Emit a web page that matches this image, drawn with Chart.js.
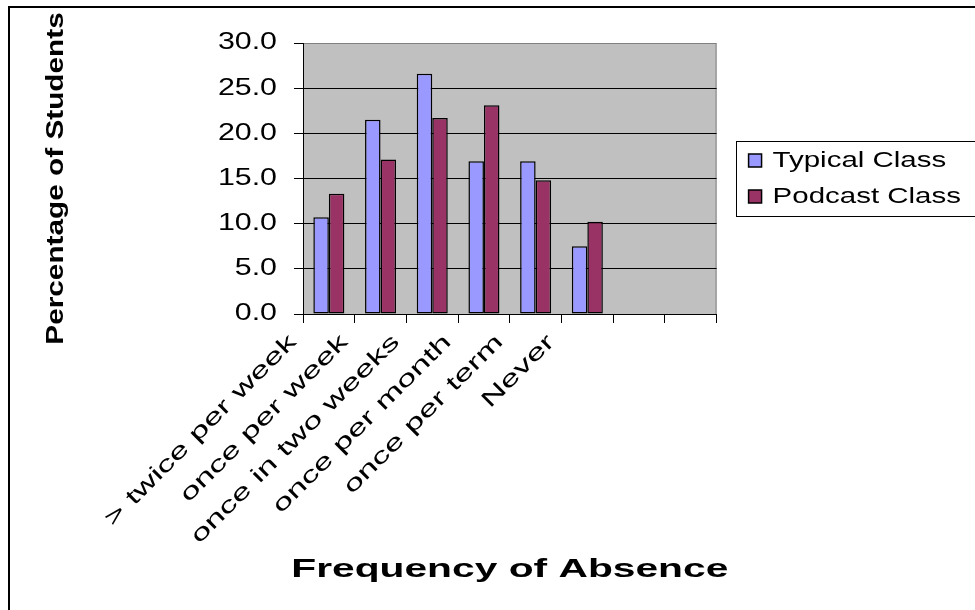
<!DOCTYPE html>
<html>
<head>
<meta charset="utf-8">
<title>Frequency of Absence</title>
<script src="https://cdn.jsdelivr.net/npm/chart.js@4/dist/chart.umd.min.js"></script>
<style>
  html, body { margin: 0; padding: 0; background: #fff; }
  canvas { display: block; }
</style>
</head>
<body>
<canvas id="chart" width="975" height="610"></canvas>
<script>
// Absence categories (the last two slots are left empty on the axis)
const categories = ['> twice per week', 'once per week', 'once in two weeks', 'once per month', 'once per term', 'Never', '', ''];

// Percentage of students in each category
const typicalClass = [10.7, 21.5, 26.6, 16.9, 16.9, 7.5, null, null];
const podcastClass = [13.3, 17.1, 21.7, 23.1, 14.8, 10.2, null, null];

// Value axis ticks
const yTicks = [0, 5, 10, 15, 20, 25, 30];

// Lettering in this chart is set wide: horizontal widening per font size (px)
const TEXT_WIDEN = { '22': 1.34, '22.5': 1.55, '23': 1.32, '24': 1.24, '25': 1.63 };

function widenText(ctx) {
  const fill = ctx.fillText.bind(ctx);
  const measure = ctx.measureText.bind(ctx);
  const factor = () => {
    const m = /(\d+(?:\.\d+)?)px/.exec(ctx.font);
    return (m && TEXT_WIDEN[String(parseFloat(m[1]))]) || 1;
  };
  ctx.fillText = function (text, x, y, maxWidth) {
    const k = factor();
    if (k === 1) {
      return maxWidth === undefined ? fill(text, x, y) : fill(text, x, y, maxWidth);
    }
    ctx.save();
    ctx.translate(x, y);
    ctx.scale(k, 1);
    fill(text, 0, 0);
    ctx.restore();
  };
  ctx.measureText = function (text) {
    const m = measure(text);
    const k = factor();
    if (k === 1) return m;
    return {
      width: m.width * k,
      actualBoundingBoxLeft: m.actualBoundingBoxLeft * k,
      actualBoundingBoxRight: m.actualBoundingBoxRight * k,
      actualBoundingBoxAscent: m.actualBoundingBoxAscent,
      actualBoundingBoxDescent: m.actualBoundingBoxDescent,
      fontBoundingBoxAscent: m.fontBoundingBoxAscent,
      fontBoundingBoxDescent: m.fontBoundingBoxDescent
    };
  };
}

// Page frame, grey plot area and the box around the legend
const framePlugin = {
  id: 'frame',
  beforeDraw(chart) {
    const { ctx, chartArea: a } = chart;
    ctx.save();
    ctx.fillStyle = '#ffffff';
    ctx.fillRect(0, 0, chart.width, chart.height);
    ctx.strokeStyle = '#000000';
    ctx.lineWidth = 2;
    ctx.beginPath();
    ctx.moveTo(9, chart.height + 5);
    ctx.lineTo(9, 7);
    ctx.lineTo(chart.width + 5, 7);
    ctx.stroke();
    ctx.fillStyle = '#C0C0C0';
    ctx.fillRect(a.left, a.top, a.right - a.left, a.bottom - a.top);
    ctx.strokeStyle = '#808080';
    ctx.lineWidth = 1;
    ctx.beginPath();
    ctx.moveTo(a.left, a.top + 0.5);
    ctx.lineTo(a.right - 0.5, a.top + 0.5);
    ctx.lineTo(a.right - 0.5, a.bottom);
    ctx.stroke();
    ctx.restore();
  },
  afterDraw(chart) {
    const { ctx, legend } = chart;
    const mid = (legend.top + legend.bottom) / 2;
    ctx.save();
    ctx.strokeStyle = '#000000';
    ctx.lineWidth = 1;
    ctx.strokeRect(Math.round(legend.left) + 1.5, Math.round(mid - 37.5) + 0.5, 400, 75);
    ctx.restore();
  }
};

const canvas = document.getElementById('chart');
widenText(canvas.getContext('2d'));

Chart.defaults.font.family = '"Liberation Sans", Arial, sans-serif';
Chart.defaults.color = '#000000';

new Chart(canvas, {
  type: 'bar',
  data: {
    labels: categories,
    datasets: [
      {
        label: 'Typical Class',
        data: typicalClass,
        backgroundColor: '#9999FF',
        borderColor: '#000000',
        borderWidth: 1.5,
        borderSkipped: false,
        yAxisID: 'y'
      },
      {
        label: 'Podcast Class',
        data: podcastClass,
        backgroundColor: '#993366',
        borderColor: '#000000',
        borderWidth: 1.5,
        borderSkipped: false,
        yAxisID: 'y'
      }
    ]
  },
  options: {
    responsive: false,
    animation: false,
    devicePixelRatio: 1,
    categoryPercentage: 0.6,
    barPercentage: 1.0,
    layout: { padding: { top: 43, left: 38, bottom: 21, right: 4 } },
    plugins: {
      legend: {
        position: 'right',
        fullSize: false,
        maxWidth: 320,
        labels: {
          boxWidth: 13,
          boxHeight: 13,
          padding: 14,
          color: '#000000',
          font: { size: 22 }
        }
      },
      tooltip: { enabled: false }
    },
    scales: {
      x: {
        offset: true,
        grid: {
          offset: true,
          drawOnChartArea: false,
          drawTicks: true,
          tickLength: 9,
          color: '#000000'
        },
        border: { display: true, color: '#000000', width: 1 },
        ticks: {
          autoSkip: false,
          minRotation: 45,
          maxRotation: 45,
          padding: 6,
          labelOffset: -36,
          color: '#000000',
          font: { size: 22.5 }
        },
        title: {
          display: true,
          text: 'Frequency of Absence',
          color: '#000000',
          font: { size: 25, weight: 'bold' },
          padding: { top: 4, bottom: 4 }
        },
        afterFit(scale) { scale.height = 275; }
      },
      y: {
        position: 'left',
        min: 0,
        max: 30,
        afterBuildTicks(scale) { scale.ticks = yTicks.map(v => ({ value: v })); },
        grid: {
          color: ctx => (ctx.tick && ctx.tick.value === 30 ? '#808080' : '#000000'),
          tickColor: '#000000',
          tickLength: 9,
          drawTicks: true
        },
        border: { display: true, color: '#000000', width: 1 },
        ticks: {
          padding: 17,
          color: '#000000',
          font: { size: 23 },
          callback: v => Number(v).toFixed(1)
        },
        title: {
          display: true,
          text: 'Percentage of Students',
          color: '#000000',
          font: { size: 24, weight: 'bold' },
          padding: { top: 4, bottom: 4 }
        },
        afterFit(scale) { scale.width = 265; }
      },
      gap: {
        type: 'linear',
        position: 'right',
        display: true,
        grid: { display: false, drawTicks: false },
        border: { display: false },
        ticks: { display: false },
        afterFit(scale) { scale.width = 18; }
      }
    }
  },
  plugins: [framePlugin]
});
</script>
</body>
</html>
